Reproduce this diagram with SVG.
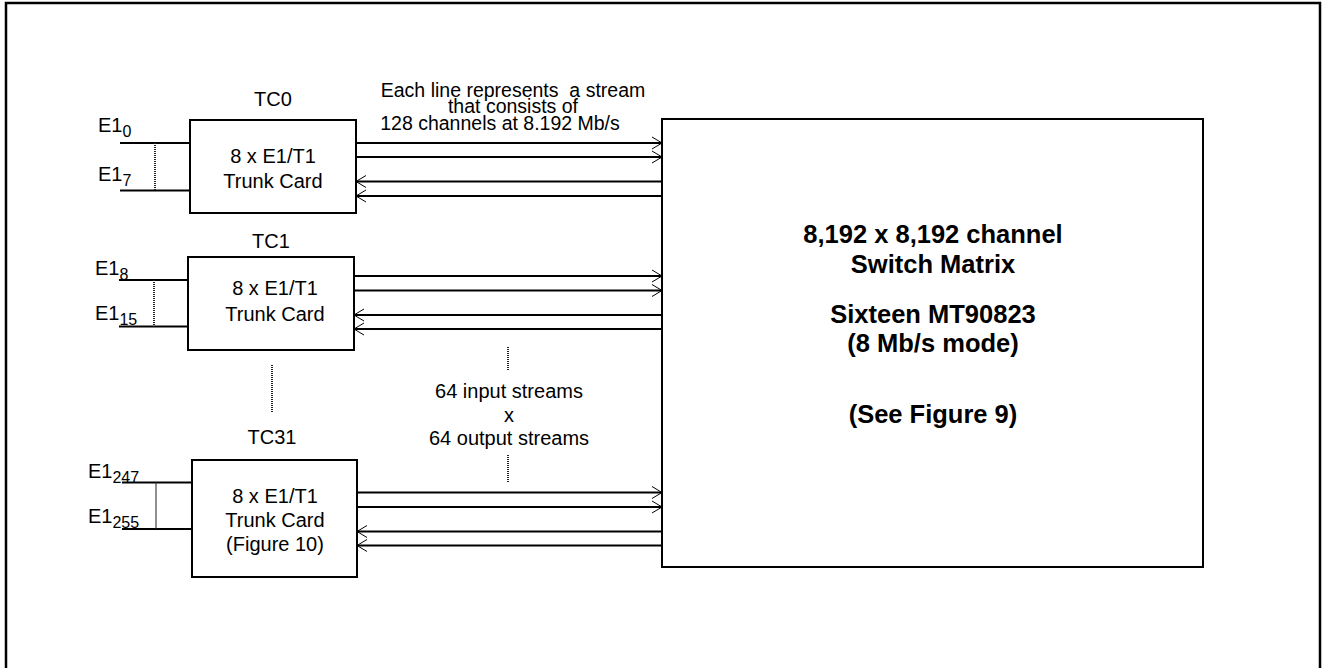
<svg xmlns="http://www.w3.org/2000/svg" width="1322" height="668" viewBox="0 0 1322 668">
<style>
.box{fill:#fff;stroke:#000;stroke-width:2}
.ln{stroke:#000;stroke-width:2;fill:none}
.dot{stroke:#222;stroke-width:2;stroke-dasharray:1 1;fill:none}
text{font-family:"Liberation Sans",Arial,sans-serif;fill:#000}
.t{font-size:20px;text-anchor:middle}
.n{font-size:19.5px;text-anchor:middle}
.lab{font-size:20px}
.sub{font-size:16px}
.b{font-size:25.5px;font-weight:bold;text-anchor:middle}
</style>
<defs>
<marker id="ah" markerUnits="userSpaceOnUse" markerWidth="14" markerHeight="14" refX="11" refY="7" orient="auto" viewBox="0 0 14 14">
<path d="M1,1 L11,7 L1,13" fill="none" stroke="#000" stroke-width="1"/>
</marker>
</defs>
<rect x="6" y="3" width="1314" height="680" fill="none" stroke="#000" stroke-width="2.5"/>

<g id="connectors">
<line class="ln" x1="356" y1="143" x2="662" y2="143" marker-end="url(#ah)"/>
<line class="ln" x1="356" y1="157" x2="662" y2="157" marker-end="url(#ah)"/>
<line class="ln" x1="662" y1="181.5" x2="356" y2="181.5" marker-end="url(#ah)"/>
<line class="ln" x1="662" y1="196" x2="356" y2="196" marker-end="url(#ah)"/>

<line class="ln" x1="354" y1="276" x2="662" y2="276" marker-end="url(#ah)"/>
<line class="ln" x1="354" y1="290.5" x2="662" y2="290.5" marker-end="url(#ah)"/>
<line class="ln" x1="662" y1="315" x2="354" y2="315" marker-end="url(#ah)"/>
<line class="ln" x1="662" y1="329" x2="354" y2="329" marker-end="url(#ah)"/>

<line class="ln" x1="357" y1="492.5" x2="662" y2="492.5" marker-end="url(#ah)"/>
<line class="ln" x1="357" y1="507" x2="662" y2="507" marker-end="url(#ah)"/>
<line class="ln" x1="663" y1="531.5" x2="357" y2="531.5" marker-end="url(#ah)"/>
<line class="ln" x1="663" y1="545.5" x2="357" y2="545.5" marker-end="url(#ah)"/>

<line class="ln" x1="120" y1="143" x2="190" y2="143"/>
<line class="ln" x1="120" y1="190.5" x2="190" y2="190.5"/>
<line class="dot" x1="155" y1="143" x2="155" y2="190.5"/>

<line class="ln" x1="119" y1="280" x2="188" y2="280"/>
<line class="ln" x1="119" y1="326.5" x2="188" y2="326.5"/>
<line class="dot" x1="154" y1="280" x2="154" y2="326.5"/>

<line class="ln" x1="122" y1="482.5" x2="192" y2="482.5"/>
<line class="ln" x1="122" y1="529" x2="192" y2="529"/>
<line class="dot" x1="156" y1="482.5" x2="156" y2="529"/>

<line class="dot" x1="272" y1="365" x2="272" y2="412"/>
<line class="dot" x1="508" y1="347" x2="508" y2="370"/>
<line class="dot" x1="508" y1="455" x2="508" y2="482"/>
</g>

<g id="note">
<text class="n" x="513" y="97">Each line represents&#160; a stream</text>
<text class="n" x="513" y="113">that consists of</text>
<text class="n" x="500" y="130">128 channels at 8.192 Mb/s</text>
<text class="t" x="509" y="398">64 input streams</text>
<text class="t" x="509" y="422">x</text>
<text class="t" x="509" y="445">64 output streams</text>
</g>

<g id="tc0">
<rect class="box" x="190" y="120" width="166" height="93"/>
<text class="t" x="273" y="106">TC0</text>
<text class="t" x="273" y="163">8 x E1/T1</text>
<text class="t" x="273" y="188">Trunk Card</text>
<text class="lab" x="98" y="132">E1<tspan class="sub" dy="5">0</tspan></text>
<text class="lab" x="98" y="181">E1<tspan class="sub" dy="5">7</tspan></text>
</g>

<g id="tc1">
<rect class="box" x="188" y="257" width="166" height="93"/>
<text class="t" x="271" y="248">TC1</text>
<text class="t" x="275" y="295">8 x E1/T1</text>
<text class="t" x="275" y="321">Trunk Card</text>
<text class="lab" x="95" y="275">E1<tspan class="sub" dy="5">8</tspan></text>
<text class="lab" x="95" y="320">E1<tspan class="sub" dy="5">15</tspan></text>
</g>

<g id="tc31">
<rect class="box" x="192" y="460" width="165" height="117"/>
<text class="t" x="272" y="444">TC31</text>
<text class="t" x="275" y="503">8 x E1/T1</text>
<text class="t" x="275" y="527">Trunk Card</text>
<text class="t" x="275" y="551">(Figure 10)</text>
<text class="lab" x="88" y="478">E1<tspan class="sub" dy="5">247</tspan></text>
<text class="lab" x="88" y="523">E1<tspan class="sub" dy="5">255</tspan></text>
</g>

<g id="matrix">
<rect class="box" x="662" y="119" width="541" height="448"/>
<text class="b" x="933" y="243">8,192 x 8,192 channel</text>
<text class="b" x="933" y="273">Switch Matrix</text>
<text class="b" x="933" y="323">Sixteen MT90823</text>
<text class="b" x="933" y="352">(8 Mb/s mode)</text>
<text class="b" x="933" y="423">(See Figure 9)</text>
</g>
</svg>
